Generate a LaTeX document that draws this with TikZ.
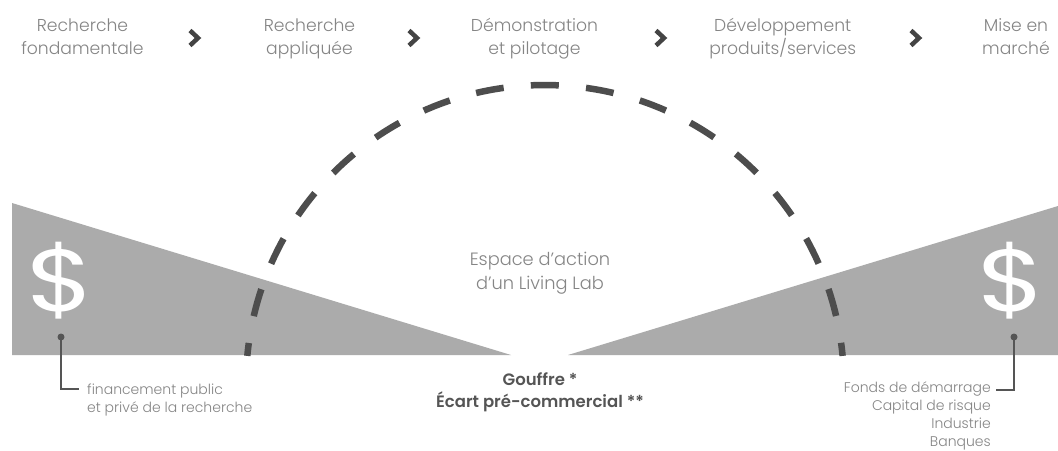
\documentclass[tikz,border=0pt]{standalone}
\usepackage{graphicx}
\usepackage{fontspec}
\setmainfont{Poppins}[UprightFont=* Light,BoldFont=* SemiBold]
\newfontfamily\dollarfont{Poppins}
\definecolor{fillgray}{HTML}{ABABAB}
\definecolor{arcgray}{HTML}{4D4D4D}
\definecolor{txtgray}{HTML}{858585}
\definecolor{darkgray}{HTML}{555555}
\definecolor{chevgray}{HTML}{444444}
\begin{document}
\begin{tikzpicture}[x=1pt,y=1pt,
  stage/.style={anchor=base,inner sep=0pt,align=center,text=txtgray,font=\fontsize{17.2}{23}\selectfont},
  chev/.style={draw=chevgray,line width=4.5pt,miter limit=10},
  dollar/.style={inner sep=0pt,text=white,font=\dollarfont\fontsize{88}{88}\selectfont},
  lbl/.style={inner sep=0pt,text=txtgray,font=\fontsize{14}{18}\selectfont},
  gap/.style={anchor=base,inner sep=0pt,align=center,text=darkgray,font=\bfseries\fontsize{16.5}{21.7}\selectfont},
  lead/.style={draw=darkgray,line width=1.8pt},
  dot/.style={circle,fill=darkgray,inner sep=0pt,minimum size=7pt}
]
\useasboundingbox (0,0) rectangle (1058,-450);
\fill[white] (0,0) rectangle (1058,-450);

% funding wedges
\fill[fillgray] (12,-203) -- (12,-355) -- (511,-355) -- cycle;
\fill[fillgray] (568,-355) -- (1058,-355) -- (1058,-206) -- cycle;

% dashed arc
\draw[arcgray,line width=6.5pt,dash pattern=on 28pt off 27.3pt,dash phase=15pt]
  (247.3,-355.9) arc[start angle=174.6,end angle=5.4,radius=299pt];

% stages (base = baseline of last line)
\node[stage] (s1) at (82.5,-54) {Recherche\\fondamentale};
\node[stage] (s2) at (309.5,-54) {Recherche\\appliquée};
\node[stage] (s3) at (534.5,-54) {Démonstration\\et pilotage};
\node[stage] (s4) at (782.7,-54) {Développement\\produits/services};
\node[stage] (s5) at (1016,-54) {Mise en\\marché};

% chevrons
\foreach \cx in {195,414,661,916}{
  \draw[chev] (\cx-5,-30.5) -- (\cx+3,-38) -- (\cx-5,-45.5);
}

% dollar signs
\node[dollar] (d1) at (61,-281) {\scalebox{1.25}[1]{\$}};
\node[dollar] (d2) at (1012,-281) {\scalebox{1.25}[1]{\$}};

% centre text
\node[stage,font=\fontsize{17.8}{24}\selectfont] (space) at (540,-289) {Espace d’action\\d’un Living Lab};
\node[gap] (gouffre) at (540,-407) {Gouffre *\\Écart pré-commercial **};

% left lead
\node[dot] (p1) at (61,-337) {};
\coordinate (c1) at (61,-389);
\node[lbl,anchor=base west,align=left] (l1) at (87,-412) {financement public\\et privé de la recherche};
\draw[lead] (p1.center) -- (c1) -- (79,-389);

% right lead
\node[dot] (p2) at (1014,-337) {};
\coordinate (c2) at (1014,-390);
\node[lbl,anchor=base east,align=right] (l2) at (991,-446) {Fonds de démarrage\\Capital de risque\\Industrie\\Banques};
\draw[lead] (p2.center) -- (c2) -- (996,-390);
\end{tikzpicture}
\end{document}
